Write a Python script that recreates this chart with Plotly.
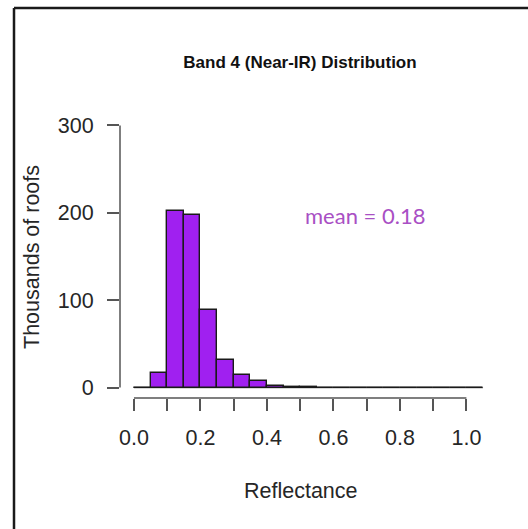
import plotly.graph_objects as go

# ---- data ----
bin_edges = [0.00, 0.05, 0.10, 0.15, 0.20, 0.25, 0.30, 0.35, 0.40, 0.45, 0.50,
             0.55, 0.60, 0.65, 0.70, 0.75, 0.80, 0.85, 0.90, 0.95, 1.00, 1.05]
counts_thousands = [0, 17, 202, 198, 89, 31, 14.5, 7, 2.3, 0.9, 0.4,
                    0, 0, 0, 0, 0, 0, 0, 0, 0, 0]
x_tickvals = [0.0, 0.1, 0.2, 0.3, 0.4, 0.5, 0.6, 0.7, 0.8, 0.9, 1.0]
x_ticktext = ["0.0", "", "0.2", "", "0.4", "", "0.6", "", "0.8", "", "1.0"]
y_tickvals = [0, 100, 200, 300]
y_ticktext = ["0", "100", "200", "300"]
title_text = "Band 4 (Near-IR) Distribution"
x_label = "Reflectance"
y_label = "Thousands of roofs"
mean_label = "mean = 0.18"

centers = [(a + b) / 2 for a, b in zip(bin_edges[:-1], bin_edges[1:])]
widths = [b - a for a, b in zip(bin_edges[:-1], bin_edges[1:])]

W, H = 528, 529
L, R, T, B = 120, 31, 115, 131
pw, ph = W - L - R, H - T - B


def px2x(px):
    return (px - L) / pw


def px2y(py):
    return (H - B - py) / ph


fig = go.Figure()
fig.add_trace(go.Bar(
    x=centers, y=counts_thousands, width=widths,
    marker=dict(color="#A020F0", line=dict(color="#1a1a1a", width=1.4)),
    showlegend=False, hoverinfo="x+y",
))

axis_font = dict(family="Liberation Sans, Arial, sans-serif", size=21.5, color="#262626")
line_col = "#555555"

fig.update_layout(
    width=W, height=H,
    margin=dict(l=L, r=R, t=T, b=B, pad=0),
    paper_bgcolor="white", plot_bgcolor="white",
    bargap=0,
    title=dict(text="<b>" + title_text + "</b>", xref="container", yref="container",
               x=300 / W, y=1 - 62.5 / H, xanchor="center", yanchor="middle",
               font=dict(family="Liberation Sans, Arial, sans-serif", size=17, color="#111111")),
    xaxis=dict(range=[-0.042, 1.092], tickvals=x_tickvals, ticktext=x_ticktext,
               ticks="outside", ticklen=12, tickwidth=1.5, tickcolor=line_col,
               showgrid=False, zeroline=False, showline=False,
               tickfont=axis_font, ticklabelstandoff=8),
    yaxis=dict(range=[-12, 312], tickvals=y_tickvals, ticktext=y_ticktext,
               ticks="outside", ticklen=12, tickwidth=1.5, tickcolor=line_col,
               showgrid=False, zeroline=False, showline=False,
               tickfont=axis_font, ticklabelstandoff=9),
)

# R-style detached axis lines spanning only the tick range
fig.add_shape(type="line", xref="x", yref="paper", x0=x_tickvals[0], x1=x_tickvals[-1],
              y0=0, y1=0, line=dict(color=line_col, width=1.5))
fig.add_shape(type="line", xref="paper", yref="y", x0=0, x1=0,
              y0=y_tickvals[0], y1=y_tickvals[-1], line=dict(color=line_col, width=1.5))
# histogram baseline (empty bins drawn as zero-height bars in R)
fig.add_shape(type="line", xref="x", yref="y", x0=bin_edges[0], x1=bin_edges[-1],
              y0=0, y1=0, line=dict(color="#666666", width=1.3), layer="below")

# axis titles and mean label
fig.add_annotation(text=x_label, xref="paper", yref="paper", x=px2x(301), y=px2y(491),
                   showarrow=False, xanchor="center", yanchor="middle",
                   font=dict(family="Liberation Sans, Arial, sans-serif", size=21.5, color="#262626"))
fig.add_annotation(text=y_label, xref="paper", yref="paper", x=px2x(32), y=px2y(257),
                   showarrow=False, textangle=-90, xanchor="center", yanchor="middle",
                   font=dict(family="Liberation Sans, Arial, sans-serif", size=21.5, color="#262626"))
fig.add_annotation(text=mean_label, xref="paper", yref="paper", x=px2x(365), y=px2y(215),
                   showarrow=False, xanchor="center", yanchor="middle",
                   font=dict(family="Lato, Open Sans, sans-serif", size=22, color="#A94FC4"))

# frame lines (left and top) as in the reference
fig.add_shape(type="line", xref="paper", yref="paper", x0=px2x(14), x1=px2x(14),
              y0=px2y(8), y1=px2y(H + 5), line=dict(color="#1a1a1a", width=2.5))
fig.add_shape(type="line", xref="paper", yref="paper", x0=px2x(14), x1=px2x(W + 5),
              y0=px2y(8), y1=px2y(8), line=dict(color="#1a1a1a", width=2.5))

fig.write_html("out.html")
